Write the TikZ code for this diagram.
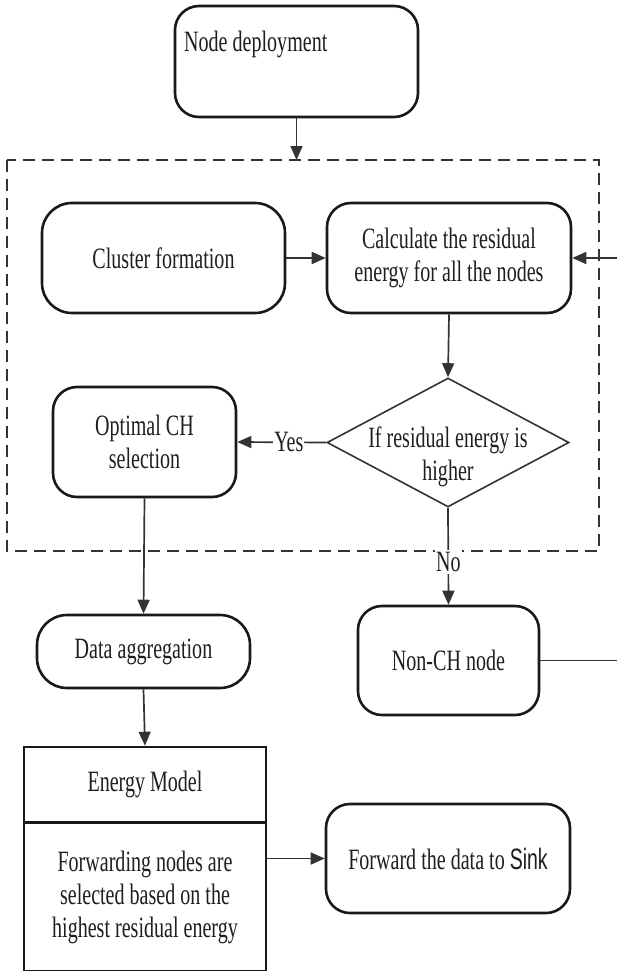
\documentclass[tikz,border=0pt]{standalone}
\usepackage{fontspec}
\setmainfont{Liberation Serif}[FakeStretch=0.68]
\newfontfamily\sinkfont{Liberation Sans}[FakeStretch=0.66]
\usetikzlibrary{arrows.meta,shapes.geometric}

\tikzset{
  txt/.style={font=\fontsize{29.5}{33}\selectfont, text=black!88, align=center, inner sep=0pt},
  rbox/.style={draw=black!90, line width=2.6pt, rounded corners=24pt, fill=white, inner sep=0pt},
  sbox/.style={draw=black!90, line width=2.6pt, fill=white, inner sep=0pt},
  conn/.style={draw=black!80, line width=1.7pt},
  flow/.style={conn, -{Triangle[length=14pt,width=12pt]}},
  tag/.style={txt, fill=white, inner xsep=1pt, inner ysep=2pt},
}

\begin{document}
\begin{tikzpicture}[x=1pt,y=-1pt]
\useasboundingbox (0,0) rectangle (617,971);
\clip (0,0) rectangle (617,971);

% dashed frame around the cluster-head election stage
\draw[draw=black!80, line width=2pt, dash pattern=on 12pt off 7pt] (7,160) rectangle (599,551);
\coordinate (frametop) at (296.5,160);

% process boxes
\node[rbox, minimum width=243pt, minimum height=111pt] (deploy) at (296.5,61.5) {};
\node[txt, anchor=west] (deploytxt) at (184,44) {Node deployment};

\node[rbox, rounded corners=30pt, minimum width=243pt, minimum height=110pt, txt] (cluster) at (163.5,258) {Cluster formation};
\node[rbox, minimum width=244pt, minimum height=110pt, txt] (calc) at (449,258) {Calculate the residual\\energy for all the nodes};

\node[draw=black!80, line width=1.6pt, diamond, minimum width=242pt, minimum height=129pt, inner sep=0pt, fill=white] (diam) at (448,442.5) {};
\node[txt] (diamtxt) at (448,457) {If residual energy is\\higher};

\node[rbox, minimum width=183pt, minimum height=110pt, txt] (optch) at (144.5,442) {Optimal CH\\selection};

\node[rbox, rounded corners=30pt, minimum width=213pt, minimum height=73pt, txt] (dataagg) at (143.5,651.5) {Data aggregation};
\node[rbox, minimum width=181pt, minimum height=109pt, txt] (nonch) at (448.5,660.5) {Non-CH node};

\node[sbox, minimum width=242pt, minimum height=75pt, txt] (emtop) at (145,784.5) {Energy Model};
\node[sbox, minimum width=242pt, minimum height=148pt, txt] (embot) at (145,897) {Forwarding nodes are\\selected based on the\\highest residual energy};

\node[rbox, minimum width=244pt, minimum height=109pt, txt] (fwd) at (448,858.5) {Forward the data to {\sinkfont Sink}};

% connectors
\draw[flow] (deploy.south) -- (frametop);
\draw[flow] (cluster.east) -- (calc.west);
\draw[flow] (calc.south) -- (diam.north);
\draw[flow] (diam.west) -- node[tag, pos=0.42] (yes) {Yes} (optch.east);
\draw[flow] (diam.south) -- node[tag, pos=0.56] (no) {No} (nonch.north);
\draw[flow] (optch.south) -- (dataagg.north);
\draw[flow] (dataagg.south) -- (emtop.north);
\draw[flow] (fwd.west -| embot.east) -- (fwd.west);
% feedback from non-CH nodes back to the energy calculation
\draw[flow] (nonch.east) -- ++(90,0) |- (calc.east);
\end{tikzpicture}
\end{document}
